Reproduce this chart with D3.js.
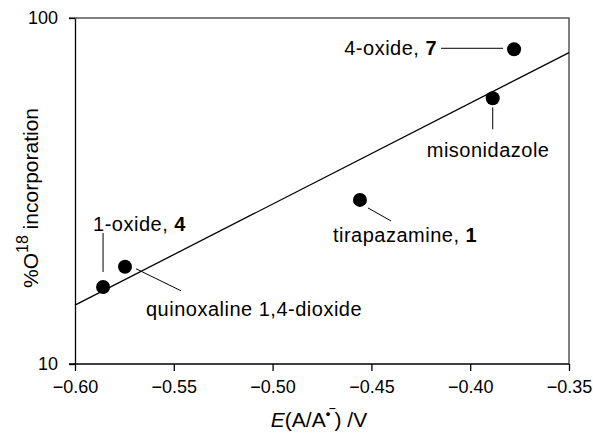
<!DOCTYPE html>
<html>
<head>
<meta charset="utf-8">
<style>
  body { margin: 0; background: #fff; }
  svg { font-family: "Liberation Sans", Arial, sans-serif; }
</style>
</head>
<body>
<div id="container"></div>
<script src="https://d3js.org/d3.v7.min.js"></script>
<script>
// data
var compounds = ["1-oxide, ", "quinoxaline 1,4-dioxide", "tirapazamine, ", "misonidazole", "4-oxide, "];
var boldPart = ["4", "", "1", "", "7"];
var potentials = [-0.5858, -0.5747, -0.4558, -0.3886, -0.3778];
var incorporation = [16.7, 19.1, 29.8, 58.6, 81.2];
var fitX = [-0.60, -0.35];
var fitY = [14.8, 79.4];
var xTicks = [-0.60, -0.55, -0.50, -0.45, -0.40, -0.35];
var yTicks = [10, 100];

// label placement relative to each point (px)
var leaders = [[0, -54, 0, -15], [11, 2, 56, 24], [8, 8, 31, 21], [0, 9, 0, 31], [-73, -1, -11, -1]];
var labelPos = [[-10, -56, "start"], [21, 49, "start"], [-27, 42, "start"], [-66, 59, "start"], [-77, 6, "end"]];

var W = 593, H = 433;
var margin = {top: 18, right: 24, bottom: 69, left: 75};

var svg = d3.select("#container").append("svg")
    .attr("width", W)
    .attr("height", H);

var x = d3.scaleLinear().domain([-0.60, -0.35]).range([margin.left, W - margin.right]);
var y = d3.scaleLog().domain([10, 100]).range([H - margin.bottom, margin.top]);

// top and right frame
svg.append("path")
    .attr("d", "M" + (margin.left - 6) + "," + y(100) + "H" + x(-0.35) + "V" + y(10))
    .attr("fill", "none")
    .attr("stroke", "#555")
    .attr("stroke-width", 1.5);

// X axis
var xAxis = svg.append("g")
    .attr("transform", "translate(0," + y(10) + ")")
    .call(d3.axisBottom(x).tickValues(xTicks).tickFormat(d3.format(".2f")).tickSize(7).tickSizeOuter(0).tickPadding(9));
xAxis.select(".domain").attr("d", "M" + (margin.left - 6) + ",0H" + x(-0.35));

// Y axis
var yAxis = svg.append("g")
    .attr("transform", "translate(" + margin.left + ",0)")
    .call(d3.axisLeft(y).tickValues(yTicks).tickFormat(d3.format("d")).tickSize(6).tickSizeOuter(0).tickPadding(11));

svg.selectAll(".domain, .tick line").attr("stroke", "#000").attr("stroke-width", 1.3);
svg.selectAll(".tick text").attr("fill", "#000").style("font-size", "18px").style("font-family", "Liberation Sans, Arial, sans-serif");

// regression line
svg.append("line")
    .attr("x1", x(fitX[0])).attr("y1", y(fitY[0]))
    .attr("x2", x(fitX[1])).attr("y2", y(fitY[1]))
    .attr("stroke", "#000")
    .attr("stroke-width", 1.3);

// points
var pts = compounds.map(function (c, i) {
  return {name: c, bold: boldPart[i], cx: x(potentials[i]), cy: y(incorporation[i]), lead: leaders[i], lab: labelPos[i]};
});

svg.append("g").selectAll("line").data(pts).enter().append("line")
    .attr("x1", function (d) { return d.cx + d.lead[0]; })
    .attr("y1", function (d) { return d.cy + d.lead[1]; })
    .attr("x2", function (d) { return d.cx + d.lead[2]; })
    .attr("y2", function (d) { return d.cy + d.lead[3]; })
    .attr("stroke", "#000")
    .attr("stroke-width", 1);

svg.append("g").selectAll("circle").data(pts).enter().append("circle")
    .attr("cx", function (d) { return d.cx; })
    .attr("cy", function (d) { return d.cy; })
    .attr("r", 7)
    .style("fill", "#000");

var labels = svg.append("g").selectAll("text").data(pts).enter().append("text")
    .attr("x", function (d) { return d.cx + d.lab[0]; })
    .attr("y", function (d) { return d.cy + d.lab[1]; })
    .attr("text-anchor", function (d) { return d.lab[2]; })
    .style("font-size", "20px")
    .style("letter-spacing", "0.5px");
labels.append("tspan").text(function (d) { return d.name; });
labels.append("tspan").style("font-weight", "bold").text(function (d) { return d.bold; });

// X axis label
var xt = svg.append("text")
    .attr("text-anchor", "middle")
    .attr("x", 319)
    .attr("y", 427)
    .style("font-size", "21px");
xt.append("tspan").style("font-style", "italic").text("E");
xt.append("tspan").text("(A/A");
xt.append("tspan").attr("dy", -9).style("font-size", "13px").style("font-weight", "bold").text("\u2022\u203E");
xt.append("tspan").attr("dy", 9).text(") /V");

// Y axis label
var yt = svg.append("text")
    .attr("text-anchor", "middle")
    .attr("transform", "translate(38,198) rotate(-90)")
    .style("font-size", "21px");
yt.append("tspan").text("%O");
yt.append("tspan").attr("dy", -10).style("font-size", "16px").text("18");
yt.append("tspan").attr("dy", 10).text(" incorporation");
</script>
</body>
</html>
